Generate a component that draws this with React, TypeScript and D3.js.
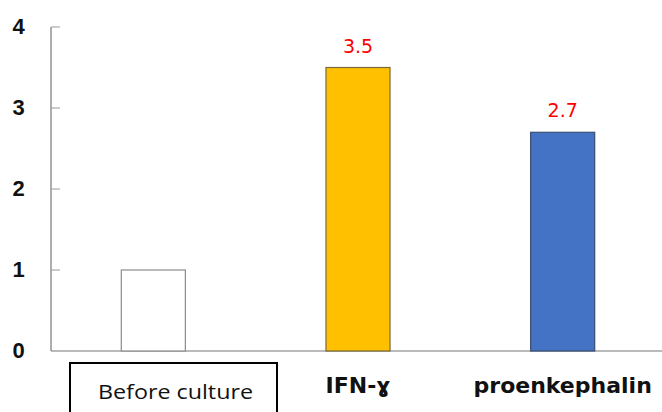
import * as d3 from "d3"

// values
const categories = ["Before culture", "IFN-ɣ", "proenkephalin"]
const values = [1, 3.5, 2.7]
const valueLabels = ["", "3.5", "2.7"]
const fills = ["#ffffff", "#ffc000", "#4472c4"]
const strokes = ["#8c8c8c", "#7a6a3a", "#3a4f70"]
const yTicks = [0, 1, 2, 3, 4]

const width = 662
const height = 412
const margin = { top: 27, right: -3, bottom: 61, left: 51 }

export default function App() {
  const x = d3
    .scaleBand()
    .domain(categories)
    .range([margin.left, width - margin.right])
    .paddingInner(0.687)
    .paddingOuter(0.3435)

  const y = d3
    .scaleLinear()
    .domain([0, 4])
    .range([height - margin.bottom, margin.top])

  const base = y(0)

  return (
    <svg
      width={width}
      height={height}
      style={{ position: "absolute", left: 0, top: 0, background: "#fff" }}
    >
      {/* axis */}
      <line x1={margin.left} x2={margin.left} y1={y(4)} y2={base} stroke="#777" strokeWidth={1.2} />
      <line x1={margin.left} x2={width} y1={base} y2={base} stroke="#777" strokeWidth={1.2} />
      {yTicks.map((t) => (
        <g key={t}>
          {t > 0 && (
            <line x1={margin.left} x2={margin.left + 9} y1={y(t)} y2={y(t)} stroke="#999" strokeWidth={1} />
          )}
          <text
            x={18.5}
            y={y(t) + 6.5}
            textAnchor="middle"
            fontFamily="Liberation Sans, Arial, sans-serif"
            fontWeight="bold"
            fontSize={22}
            fill="#111"
          >
            {t}
          </text>
        </g>
      ))}

      {/* bars */}
      {categories.map((c, i) => (
        <rect
          key={c}
          x={x(c)}
          y={y(values[i])}
          width={x.bandwidth()}
          height={base - y(values[i])}
          fill={fills[i]}
          stroke={strokes[i]}
          strokeWidth={1.2}
        />
      ))}

      {/* value labels */}
      {categories.map((c, i) =>
        valueLabels[i] ? (
          <text
            key={c}
            x={(x(c) ?? 0) + x.bandwidth() / 2}
            y={y(values[i]) - 15}
            textAnchor="middle"
            fontFamily="DejaVu Sans, sans-serif"
            fontSize={19}
            fill="#ff0000"
          >
            {valueLabels[i]}
          </text>
        ) : null
      )}

      {/* category labels */}
      <rect x={70} y={363} width={207} height={60} fill="none" stroke="#000" strokeWidth={2} />
      {categories.map((c, i) =>
        i === 0 ? (
          <text
            key={c}
            x={175.5}
            y={399}
            textAnchor="middle"
            fontFamily="Open Sans, sans-serif"
            fontSize={20}
            textLength={155}
            lengthAdjust="spacingAndGlyphs"
            fill="#111"
          >
            {c}
          </text>
        ) : (
          <text
            key={c}
            x={(x(c) ?? 0) + x.bandwidth() / 2}
            y={393}
            textAnchor="middle"
            fontFamily="DejaVu Sans, sans-serif"
            fontWeight="bold"
            fontSize={22}
            fill="#111"
          >
            {c}
          </text>
        )
      )}
    </svg>
  )
}
